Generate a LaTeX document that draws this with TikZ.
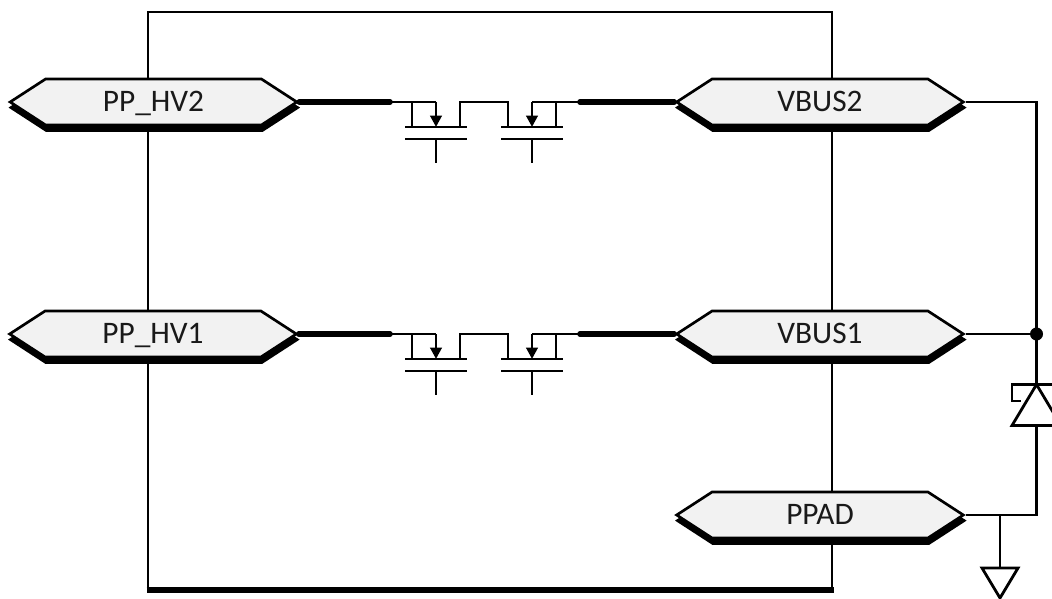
\documentclass[tikz,border=0pt]{standalone}
\usepackage{fontspec}
\setmainfont{Carlito}
\usetikzlibrary{arrows.meta,shapes.symbols,shadows}
\definecolor{portfill}{HTML}{F2F2F2}
\tikzset{
    port/.style={shape=signal, signal to=west and east, signal pointer angle=66,
        draw=black, line width=2pt, fill=portfill, inner sep=0pt,
        minimum width=215pt, minimum height=34.5pt,
        font=\fontsize{23.5}{25}\selectfont, text=black!90,
        text height=16pt, text depth=1.8pt,
        copy shadow={shadow xshift=0.6pt, shadow yshift=-4.2pt, fill=black, draw=black}},
    wire/.style={line width=2.1pt, line join=miter},
    bus/.style={line width=4.2pt, line cap=round},
    flow/.style={wire, -{Triangle[length=8.5pt,width=8.5pt]}}
}
\begin{document}
\begin{tikzpicture}[x=0.75pt, y=-0.75pt]
    \clip (0,0) rectangle (1052,599);
    % Outer frame, heavy along the bottom
    \draw[wire, line width=2.1pt] (148,590) -- (148,12) -- (832,12) -- (832,590);
    \draw[line width=5.2pt] (146.5,590) -- (833.5,590);
    % Ports
    \node[port] (hvtwo) at (153.5,102) {PP\_HV2};
    \node[port] (hvone) at (153,334) {PP\_HV1};
    \node[port] (vbustwo) at (820,102) {VBUS2};
    \node[port] (vbusone) at (820,334) {VBUS1};
    \node[port] (ppad) at (820,515) {PPAD};
    % Back-to-back FET pairs
    \foreach \src/\dst/\y in {hvtwo/vbustwo/102, hvone/vbusone/334} {
        \coordinate (busL) at (390,\y);
        \coordinate (busR) at (580,\y);
        \draw[bus] (\src.east) -- (busL);
        \draw[bus] (busR) -- (\dst.west);
        % left FET
        \draw[wire] (busL) -- (436,\y);
        \draw[flow] (436,\y) -- (436,\y+25);
        \draw[wire] (412,\y) -- (412,\y+25);
        \draw[wire] (405,\y+25) -- (467,\y+25);
        \draw[wire] (405,\y+37) -- (467,\y+37);
        \draw[wire] (436,\y+37) -- (436,\y+61);
        % link between the FETs
        \draw[wire] (460,\y+25) -- (460,\y) -- (508,\y) -- (508,\y+25);
        % right FET
        \draw[wire] (busR) -- (532,\y);
        \draw[flow] (532,\y) -- (532,\y+25);
        \draw[wire] (556,\y) -- (556,\y+25);
        \draw[wire] (501,\y+25) -- (563,\y+25);
        \draw[wire] (501,\y+37) -- (563,\y+37);
        \draw[wire] (532,\y+37) -- (532,\y+61);
    }
    % Right-hand rail with clamp diode
    \coordinate (dotjoin) at (1036.5,334);
    \coordinate (anode) at (1036.5,425.5);
    \coordinate (cathode) at (1036.5,384.5);
    \coordinate (gndtap) at (1000,515);
    \draw[wire] (vbustwo.east) -- (1036.5,102) -- (dotjoin);
    \draw[wire] (vbusone.east) -- (dotjoin);
    \fill (dotjoin) circle (6.5);
    \draw[wire] (dotjoin) -- (cathode);
    \draw[wire] (1021,401) -- (1012,401) -- (1012,384.5) -- (1061,384.5);
    \draw[wire] (cathode) -- (1012,425.5) -- (1061,425.5) -- cycle;
    \draw[wire] (anode) -- (1036.5,515) -- (ppad.east);
    % Ground
    \draw[wire] (gndtap) -- (1000,568);
    \draw[wire] (982,568) -- (1018,568) -- (1000,598) -- cycle;
\end{tikzpicture}
\end{document}
